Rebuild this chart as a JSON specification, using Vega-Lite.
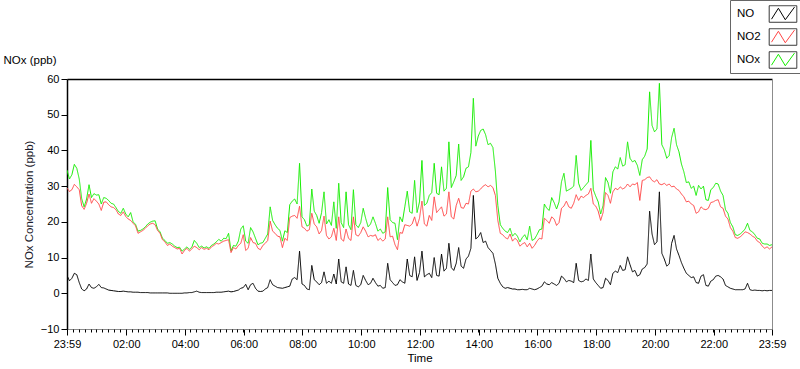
{
  "$schema": "https://vega.github.io/schema/vega-lite/v6.json",
  "width": 705,
  "height": 250,
  "autosize": {"type": "none"},
  "padding": {"left": 67, "top": 79, "right": 28, "bottom": 40},
  "background": "white",
  "config": {
    "font": "Liberation Sans",
    "view": {"stroke": null},
    "axis": {"grid": false, "labelFont": "Liberation Sans", "titleFont": "Liberation Sans", "labelColor": "black", "titleColor": "black"},
    "legend": {"labelFont": "Liberation Sans"}
  },
  "data": {"values": [
    {"t":0,"NO":5.0,"NO2":29.5,"NOx":34.5},{"t":5,"NO":3.5,"NO2":28.5,"NOx":32.0},{"t":10,"NO":4.2,"NO2":29.0,"NOx":33.2},{"t":15,"NO":5.6,"NO2":30.5,"NOx":36.1},{"t":20,"NO":5.2,"NO2":29.8,"NOx":35.0},{"t":25,"NO":3.0,"NO2":29.0,"NOx":32.0},{"t":30,"NO":1.2,"NO2":24.5,"NOx":26.5},{"t":35,"NO":0.7,"NO2":23.5,"NOx":24.2},{"t":40,"NO":1.2,"NO2":25.2,"NOx":26.4},{"t":45,"NO":2.6,"NO2":27.8,"NOx":30.4},{"t":50,"NO":1.6,"NO2":25.2,"NOx":26.8},{"t":55,"NO":1.4,"NO2":26.5,"NOx":27.9},
    {"t":60,"NO":1.8,"NO2":25.8,"NOx":27.5},{"t":65,"NO":2.5,"NO2":25.0,"NOx":27.6},{"t":70,"NO":1.6,"NO2":23.2,"NOx":25.0},{"t":75,"NO":1.5,"NO2":25.5,"NOx":26.8},{"t":80,"NO":1.2,"NO2":25.6,"NOx":26.6},{"t":85,"NO":0.9,"NO2":24.8,"NOx":26.0},{"t":90,"NO":0.8,"NO2":24.2,"NOx":25.2},{"t":95,"NO":0.7,"NO2":24.0,"NOx":25.0},{"t":100,"NO":0.6,"NO2":23.4,"NOx":24.0},{"t":105,"NO":0.5,"NO2":22.2,"NOx":22.9},{"t":110,"NO":0.5,"NO2":21.8,"NOx":22.4},{"t":115,"NO":0.6,"NO2":22.8,"NOx":23.8},
    {"t":120,"NO":0.5,"NO2":21.5,"NOx":22.2},{"t":125,"NO":0.4,"NO2":20.8,"NOx":21.4},{"t":130,"NO":0.4,"NO2":20.4,"NOx":22.6},{"t":135,"NO":0.3,"NO2":19.6,"NOx":20.0},{"t":140,"NO":0.3,"NO2":18.9,"NOx":19.3},{"t":145,"NO":0.3,"NO2":16.8,"NOx":17.4},{"t":150,"NO":0.2,"NO2":17.2,"NOx":17.6},{"t":155,"NO":0.2,"NO2":17.6,"NOx":18.0},{"t":160,"NO":0.2,"NO2":18.2,"NOx":18.6},{"t":165,"NO":0.2,"NO2":18.9,"NOx":19.4},{"t":170,"NO":0.1,"NO2":19.4,"NOx":19.9},{"t":175,"NO":0.1,"NO2":19.6,"NOx":20.2},
    {"t":180,"NO":0.1,"NO2":19.2,"NOx":20.3},{"t":185,"NO":0.1,"NO2":17.6,"NOx":18.0},{"t":190,"NO":0.1,"NO2":16.8,"NOx":17.2},{"t":195,"NO":0.1,"NO2":15.0,"NOx":15.4},{"t":200,"NO":0.1,"NO2":14.4,"NOx":14.8},{"t":205,"NO":0.1,"NO2":13.4,"NOx":14.0},{"t":210,"NO":0.0,"NO2":13.8,"NOx":14.2},{"t":215,"NO":0.0,"NO2":13.2,"NOx":13.8},{"t":220,"NO":0.0,"NO2":12.8,"NOx":13.2},{"t":225,"NO":0.0,"NO2":12.4,"NOx":12.8},{"t":230,"NO":0.0,"NO2":12.6,"NOx":12.9},{"t":235,"NO":0.0,"NO2":11.0,"NOx":11.8},
    {"t":240,"NO":0.1,"NO2":12.0,"NOx":12.4},{"t":245,"NO":0.1,"NO2":12.6,"NOx":13.0},{"t":250,"NO":0.2,"NO2":11.8,"NOx":12.3},{"t":255,"NO":0.2,"NO2":12.4,"NOx":12.9},{"t":260,"NO":0.4,"NO2":13.2,"NOx":14.8},{"t":265,"NO":0.6,"NO2":12.8,"NOx":14.0},{"t":270,"NO":0.3,"NO2":12.2,"NOx":12.8},{"t":275,"NO":0.2,"NO2":12.8,"NOx":13.2},{"t":280,"NO":0.2,"NO2":12.3,"NOx":12.7},{"t":285,"NO":0.2,"NO2":12.6,"NOx":13.0},{"t":290,"NO":0.2,"NO2":12.2,"NOx":12.6},{"t":295,"NO":0.2,"NO2":13.0,"NOx":13.4},
    {"t":300,"NO":0.2,"NO2":13.4,"NOx":13.8},{"t":305,"NO":0.3,"NO2":14.0,"NOx":14.4},{"t":310,"NO":0.3,"NO2":13.8,"NOx":15.1},{"t":315,"NO":0.3,"NO2":14.2,"NOx":14.6},{"t":320,"NO":0.4,"NO2":14.6,"NOx":15.4},{"t":325,"NO":0.5,"NO2":14.8,"NOx":15.3},{"t":330,"NO":0.6,"NO2":15.0,"NOx":16.8},{"t":335,"NO":0.4,"NO2":11.4,"NOx":11.9},{"t":340,"NO":0.5,"NO2":12.8,"NOx":13.4},{"t":345,"NO":0.7,"NO2":12.4,"NOx":13.2},{"t":350,"NO":0.9,"NO2":13.4,"NOx":14.6},{"t":355,"NO":1.4,"NO2":14.0,"NOx":18.0},
    {"t":360,"NO":1.6,"NO2":16.4,"NOx":18.9},{"t":365,"NO":2.5,"NO2":12.0,"NOx":14.6},{"t":370,"NO":1.0,"NO2":12.6,"NOx":14.0},{"t":375,"NO":2.4,"NO2":15.6,"NOx":18.4},{"t":380,"NO":2.8,"NO2":14.2,"NOx":17.2},{"t":385,"NO":1.4,"NO2":14.0,"NOx":15.4},{"t":390,"NO":0.6,"NO2":12.6,"NOx":13.6},{"t":395,"NO":0.5,"NO2":12.2,"NOx":14.0},{"t":400,"NO":0.6,"NO2":13.4,"NOx":14.2},{"t":405,"NO":1.2,"NO2":14.0,"NOx":15.4},{"t":410,"NO":1.6,"NO2":14.8,"NOx":16.6},{"t":415,"NO":3.8,"NO2":20.2,"NOx":24.2},
    {"t":420,"NO":2.4,"NO2":17.4,"NOx":20.4},{"t":425,"NO":2.0,"NO2":16.8,"NOx":19.2},{"t":430,"NO":1.6,"NO2":16.0,"NOx":18.2},{"t":435,"NO":1.5,"NO2":15.8,"NOx":17.6},{"t":440,"NO":1.4,"NO2":12.8,"NOx":14.6},{"t":445,"NO":1.6,"NO2":15.4,"NOx":17.5},{"t":450,"NO":1.8,"NO2":14.8,"NOx":17.0},{"t":455,"NO":2.0,"NO2":21.2,"NOx":24.8},{"t":460,"NO":4.0,"NO2":21.6,"NOx":25.8},{"t":465,"NO":4.4,"NO2":21.8,"NOx":26.4},{"t":470,"NO":3.8,"NO2":21.0,"NOx":25.0},{"t":475,"NO":11.8,"NO2":24.4,"NOx":36.4},
    {"t":480,"NO":2.6,"NO2":18.6,"NOx":21.4},{"t":485,"NO":2.2,"NO2":18.2,"NOx":20.6},{"t":490,"NO":1.2,"NO2":17.4,"NOx":18.8},{"t":495,"NO":1.0,"NO2":17.8,"NOx":19.2},{"t":500,"NO":7.8,"NO2":22.4,"NOx":29.2},{"t":505,"NO":3.8,"NO2":19.4,"NOx":23.0},{"t":510,"NO":3.2,"NO2":18.6,"NOx":21.8},{"t":515,"NO":2.4,"NO2":16.6,"NOx":19.6},{"t":520,"NO":3.0,"NO2":17.6,"NOx":22.6},{"t":525,"NO":6.0,"NO2":21.6,"NOx":28.4},{"t":530,"NO":2.8,"NO2":16.2,"NOx":19.4},{"t":535,"NO":3.4,"NO2":15.2,"NOx":20.6},
    {"t":540,"NO":2.8,"NO2":15.8,"NOx":19.0},{"t":545,"NO":5.4,"NO2":18.2,"NOx":25.6},{"t":550,"NO":2.6,"NO2":14.8,"NOx":18.2},{"t":555,"NO":9.6,"NO2":21.4,"NOx":30.8},{"t":560,"NO":3.2,"NO2":15.2,"NOx":19.8},{"t":565,"NO":2.8,"NO2":14.6,"NOx":18.4},{"t":570,"NO":7.4,"NO2":18.0,"NOx":28.4},{"t":575,"NO":2.6,"NO2":15.4,"NOx":19.2},{"t":580,"NO":2.2,"NO2":14.8,"NOx":17.8},{"t":585,"NO":6.4,"NO2":21.4,"NOx":29.0},{"t":590,"NO":2.2,"NO2":16.4,"NOx":19.2},{"t":595,"NO":1.8,"NO2":16.0,"NOx":18.4},
    {"t":600,"NO":2.4,"NO2":17.0,"NOx":19.8},{"t":605,"NO":5.0,"NO2":18.6,"NOx":23.8},{"t":610,"NO":3.6,"NO2":17.4,"NOx":21.0},{"t":615,"NO":2.4,"NO2":15.8,"NOx":18.6},{"t":620,"NO":2.8,"NO2":16.2,"NOx":19.4},{"t":625,"NO":4.2,"NO2":16.0,"NOx":21.4},{"t":630,"NO":3.0,"NO2":16.4,"NOx":19.6},{"t":635,"NO":2.0,"NO2":14.8,"NOx":17.4},{"t":640,"NO":2.2,"NO2":15.4,"NOx":18.0},{"t":645,"NO":1.4,"NO2":14.6,"NOx":16.8},{"t":650,"NO":1.6,"NO2":15.2,"NOx":17.2},{"t":655,"NO":8.4,"NO2":21.4,"NOx":29.6},
    {"t":660,"NO":3.8,"NO2":15.8,"NOx":20.6},{"t":665,"NO":3.0,"NO2":16.0,"NOx":19.8},{"t":670,"NO":2.2,"NO2":13.6,"NOx":19.6},{"t":675,"NO":2.4,"NO2":12.2,"NOx":15.0},{"t":680,"NO":3.8,"NO2":17.0,"NOx":21.4},{"t":685,"NO":3.2,"NO2":16.8,"NOx":20.0},{"t":690,"NO":2.8,"NO2":19.2,"NOx":24.2},{"t":695,"NO":9.6,"NO2":19.0,"NOx":28.6},{"t":700,"NO":5.0,"NO2":18.8,"NOx":22.8},{"t":705,"NO":4.6,"NO2":19.4,"NOx":22.4},{"t":710,"NO":10.2,"NO2":21.4,"NOx":31.6},{"t":715,"NO":3.6,"NO2":18.8,"NOx":22.6},
    {"t":720,"NO":5.8,"NO2":21.0,"NOx":25.6},{"t":725,"NO":11.8,"NO2":25.8,"NOx":37.2},{"t":730,"NO":4.6,"NO2":19.4,"NOx":24.6},{"t":735,"NO":5.2,"NO2":18.8,"NOx":25.2},{"t":740,"NO":5.6,"NO2":21.8,"NOx":27.4},{"t":745,"NO":4.4,"NO2":20.4,"NOx":28.2},{"t":750,"NO":10.0,"NO2":27.0,"NOx":36.4},{"t":755,"NO":5.0,"NO2":22.6,"NOx":28.0},{"t":760,"NO":4.8,"NO2":23.4,"NOx":27.6},{"t":765,"NO":11.0,"NO2":24.2,"NOx":35.4},{"t":770,"NO":6.2,"NO2":21.6,"NOx":28.6},{"t":775,"NO":7.0,"NO2":22.2,"NOx":29.4},
    {"t":780,"NO":14.0,"NO2":28.4,"NOx":42.4},{"t":785,"NO":7.2,"NO2":21.4,"NOx":29.6},{"t":790,"NO":6.4,"NO2":20.8,"NOx":31.2},{"t":795,"NO":8.4,"NO2":24.6,"NOx":33.0},{"t":800,"NO":12.8,"NO2":26.6,"NOx":41.8},{"t":805,"NO":7.6,"NO2":24.0,"NOx":31.6},{"t":810,"NO":7.0,"NO2":23.8,"NOx":32.6},{"t":815,"NO":9.6,"NO2":25.2,"NOx":35.0},{"t":820,"NO":10.4,"NO2":25.0,"NOx":35.4},{"t":825,"NO":12.6,"NO2":28.6,"NOx":39.4},{"t":830,"NO":27.4,"NO2":29.2,"NOx":54.6},{"t":835,"NO":15.2,"NO2":28.4,"NOx":41.2},
    {"t":840,"NO":15.8,"NO2":28.6,"NOx":44.0},{"t":845,"NO":17.0,"NO2":29.2,"NOx":45.6},{"t":850,"NO":14.2,"NO2":30.0,"NOx":46.0},{"t":855,"NO":14.6,"NO2":30.4,"NOx":44.4},{"t":860,"NO":12.8,"NO2":29.8,"NOx":41.6},{"t":865,"NO":12.0,"NO2":30.2,"NOx":42.0},{"t":870,"NO":11.2,"NO2":29.6,"NOx":40.8},{"t":875,"NO":8.2,"NO2":27.4,"NOx":34.2},{"t":880,"NO":4.2,"NO2":20.4,"NOx":24.6},{"t":885,"NO":2.8,"NO2":16.8,"NOx":19.2},{"t":890,"NO":1.8,"NO2":16.4,"NOx":18.2},{"t":895,"NO":1.4,"NO2":15.6,"NOx":17.4},
    {"t":900,"NO":1.6,"NO2":15.2,"NOx":17.0},{"t":905,"NO":1.4,"NO2":16.6,"NOx":18.2},{"t":910,"NO":1.2,"NO2":14.6,"NOx":16.0},{"t":915,"NO":1.2,"NO2":15.4,"NOx":16.8},{"t":920,"NO":1.0,"NO2":14.8,"NOx":16.0},{"t":925,"NO":1.0,"NO2":13.2,"NOx":14.4},{"t":930,"NO":1.1,"NO2":13.8,"NOx":15.6},{"t":935,"NO":1.0,"NO2":14.2,"NOx":16.4},{"t":940,"NO":1.0,"NO2":13.0,"NOx":15.0},{"t":945,"NO":1.4,"NO2":14.0,"NOx":18.8},{"t":950,"NO":1.2,"NO2":12.6,"NOx":14.8},{"t":955,"NO":1.0,"NO2":13.4,"NOx":15.2},
    {"t":960,"NO":1.2,"NO2":14.6,"NOx":16.4},{"t":965,"NO":1.6,"NO2":15.4,"NOx":17.8},{"t":970,"NO":2.0,"NO2":15.2,"NOx":18.0},{"t":975,"NO":3.2,"NO2":21.0,"NOx":25.0},{"t":980,"NO":2.6,"NO2":20.4,"NOx":23.8},{"t":985,"NO":2.4,"NO2":19.6,"NOx":23.2},{"t":990,"NO":3.0,"NO2":21.4,"NOx":26.8},{"t":995,"NO":2.6,"NO2":20.8,"NOx":25.4},{"t":1000,"NO":2.2,"NO2":19.0,"NOx":23.6},{"t":1005,"NO":2.8,"NO2":19.8,"NOx":25.6},{"t":1010,"NO":4.8,"NO2":23.8,"NOx":31.2},{"t":1015,"NO":4.2,"NO2":24.4,"NOx":33.6},
    {"t":1020,"NO":3.2,"NO2":25.8,"NOx":28.6},{"t":1025,"NO":3.6,"NO2":24.2,"NOx":29.0},{"t":1030,"NO":3.4,"NO2":23.8,"NOx":29.4},{"t":1035,"NO":3.0,"NO2":25.2,"NOx":30.0},{"t":1040,"NO":8.4,"NO2":27.6,"NOx":38.6},{"t":1045,"NO":3.6,"NO2":26.0,"NOx":30.8},{"t":1050,"NO":3.2,"NO2":27.2,"NOx":28.8},{"t":1055,"NO":3.4,"NO2":26.8,"NOx":29.6},{"t":1060,"NO":4.0,"NO2":27.4,"NOx":30.4},{"t":1065,"NO":3.6,"NO2":27.8,"NOx":31.2},{"t":1070,"NO":11.0,"NO2":29.4,"NOx":42.8},{"t":1075,"NO":4.0,"NO2":25.0,"NOx":29.0},
    {"t":1080,"NO":3.0,"NO2":24.4,"NOx":27.2},{"t":1085,"NO":2.2,"NO2":23.0,"NOx":25.6},{"t":1090,"NO":1.4,"NO2":20.4,"NOx":22.2},{"t":1095,"NO":1.6,"NO2":22.6,"NOx":24.6},{"t":1100,"NO":4.2,"NO2":28.2,"NOx":32.4},{"t":1105,"NO":3.6,"NO2":27.4,"NOx":31.0},{"t":1110,"NO":2.4,"NO2":25.2,"NOx":28.0},{"t":1115,"NO":5.6,"NO2":28.4,"NOx":34.0},{"t":1120,"NO":6.2,"NO2":29.4,"NOx":35.4},{"t":1125,"NO":5.8,"NO2":29.0,"NOx":34.8},{"t":1130,"NO":7.8,"NO2":29.8,"NOx":38.0},{"t":1135,"NO":6.4,"NO2":29.2,"NOx":35.6},
    {"t":1140,"NO":6.6,"NO2":29.6,"NOx":36.0},{"t":1145,"NO":10.2,"NO2":30.6,"NOx":42.4},{"t":1150,"NO":8.0,"NO2":29.8,"NOx":37.8},{"t":1155,"NO":6.0,"NO2":30.6,"NOx":36.8},{"t":1160,"NO":6.4,"NO2":30.4,"NOx":37.2},{"t":1165,"NO":4.8,"NO2":31.0,"NOx":35.8},{"t":1170,"NO":5.2,"NO2":26.0,"NOx":33.0},{"t":1175,"NO":6.8,"NO2":31.6,"NOx":37.4},{"t":1180,"NO":7.2,"NO2":31.8,"NOx":38.4},{"t":1185,"NO":8.2,"NO2":32.4,"NOx":40.4},{"t":1190,"NO":23.0,"NO2":32.6,"NOx":56.4},{"t":1195,"NO":16.6,"NO2":31.6,"NOx":47.0},
    {"t":1200,"NO":13.6,"NO2":31.2,"NOx":45.2},{"t":1205,"NO":14.4,"NO2":31.8,"NOx":46.0},{"t":1210,"NO":28.4,"NO2":30.6,"NOx":58.8},{"t":1215,"NO":11.2,"NO2":30.4,"NOx":41.6},{"t":1220,"NO":9.6,"NO2":30.8,"NOx":40.2},{"t":1225,"NO":7.6,"NO2":30.2,"NOx":37.8},{"t":1230,"NO":8.2,"NO2":30.6,"NOx":38.6},{"t":1235,"NO":14.0,"NO2":29.8,"NOx":43.6},{"t":1240,"NO":16.2,"NO2":30.0,"NOx":46.2},{"t":1245,"NO":12.4,"NO2":29.2,"NOx":41.6},{"t":1250,"NO":10.6,"NO2":28.8,"NOx":39.6},{"t":1255,"NO":8.6,"NO2":27.8,"NOx":36.2},
    {"t":1260,"NO":7.0,"NO2":27.0,"NOx":34.0},{"t":1265,"NO":5.6,"NO2":25.6,"NOx":31.0},{"t":1270,"NO":5.0,"NO2":25.8,"NOx":31.2},{"t":1275,"NO":4.4,"NO2":25.0,"NOx":29.4},{"t":1280,"NO":4.6,"NO2":24.6,"NOx":30.0},{"t":1285,"NO":3.0,"NO2":22.4,"NOx":27.4},{"t":1290,"NO":2.8,"NO2":22.8,"NOx":30.2},{"t":1295,"NO":4.8,"NO2":24.2,"NOx":29.2},{"t":1300,"NO":5.2,"NO2":23.6,"NOx":30.0},{"t":1305,"NO":2.2,"NO2":23.4,"NOx":26.2},{"t":1310,"NO":2.0,"NO2":23.8,"NOx":26.0},{"t":1315,"NO":3.4,"NO2":25.4,"NOx":29.0},
    {"t":1320,"NO":3.8,"NO2":25.6,"NOx":29.6},{"t":1325,"NO":4.8,"NO2":26.0,"NOx":30.8},{"t":1330,"NO":5.0,"NO2":26.2,"NOx":30.6},{"t":1335,"NO":4.6,"NO2":24.2,"NOx":28.6},{"t":1340,"NO":4.0,"NO2":23.8,"NOx":27.4},{"t":1345,"NO":2.2,"NO2":21.6,"NOx":23.4},{"t":1350,"NO":1.8,"NO2":20.8,"NOx":22.4},{"t":1355,"NO":1.4,"NO2":18.4,"NOx":19.8},{"t":1360,"NO":1.2,"NO2":17.4,"NOx":18.6},{"t":1365,"NO":1.0,"NO2":15.6,"NOx":16.4},{"t":1370,"NO":1.0,"NO2":15.4,"NOx":16.2},{"t":1375,"NO":1.0,"NO2":15.8,"NOx":16.6},
    {"t":1380,"NO":1.0,"NO2":16.4,"NOx":17.2},{"t":1385,"NO":1.2,"NO2":17.2,"NOx":18.0},{"t":1390,"NO":2.8,"NO2":17.0,"NOx":19.6},{"t":1395,"NO":1.0,"NO2":16.6,"NOx":17.6},{"t":1400,"NO":0.8,"NO2":16.0,"NOx":17.2},{"t":1405,"NO":0.9,"NO2":15.6,"NOx":16.4},{"t":1410,"NO":0.8,"NO2":14.6,"NOx":15.4},{"t":1415,"NO":0.8,"NO2":14.2,"NOx":15.2},{"t":1420,"NO":0.7,"NO2":13.2,"NOx":14.0},{"t":1425,"NO":0.8,"NO2":12.6,"NOx":13.8},{"t":1430,"NO":0.7,"NO2":13.0,"NOx":13.8},{"t":1435,"NO":0.8,"NO2":12.4,"NOx":13.4},{"t":1440,"NO":0.8,"NO2":13.0,"NOx":13.6}
  ]},
  "resolve": {"axis": {"x": "independent", "y": "independent"}},
  "layer": [
    {
      "mark": {"type": "line", "strokeWidth": 1, "clip": true},
      "encoding": {
        "x": {"field": "t", "type": "quantitative", "scale": {"domain": [0, 1440], "nice": false, "zero": false},
          "axis": {"orient": "bottom", "values": [0,121,241,361,481,601,721,841,961,1081,1201,1321,1440],
            "labelExpr": "datum.value == 0 || datum.value == 1440 ? '23:59' : (((datum.value - 1) / 60) < 10 ? '0' : '') + ((datum.value - 1) / 60) + ':00'",
            "tickSize": 6, "tickColor": "black", "domainColor": "#8c8c8c", "domainWidth": 1, "labelFontSize": 11, "labelPadding": 3, "labelFlush": false, "labelOverlap": false,
            "title": "Time", "titleFontSize": 11.5, "titleFontWeight": "normal", "titlePadding": 3}},
        "y": {"field": "NOx", "type": "quantitative", "scale": {"domain": [-10, 60], "nice": false, "zero": false},
          "axis": {"orient": "left", "values": [-10,0,10,20,30,40,50,60], "tickSize": 6, "tickColor": "black", "domainColor": "black", "domainWidth": 1.5, "labelFontSize": 11, "labelPadding": 2,
            "title": "NOx Concentration (ppb)", "titleFontSize": 11.5, "titleFontWeight": "normal", "titlePadding": 6, "titleColor": "#1c1c2c"}},
        "color": {"datum": "NOx", "scale": {"domain": ["NO", "NO2", "NOx"], "range": ["#000000", "#ff4545", "#15ee00"]},
          "legend": {"orient": "none", "legendX": 663, "legendY": -79, "title": null, "padding": 2, "rowPadding": 0, "strokeColor": "#666666", "fillColor": null,
            "symbolType": "M-1.2,-0.72M1.2,0.72M-1,0.45L-0.4,-0.5L0.2,0.5L1,-0.6", "symbolSize": 529, "symbolStrokeWidth": 1, "labelFontSize": 11.5, "labelColor": "black",
            "encoding": {"symbols": {"x": {"value": 51}}, "labels": {"x": {"value": 5}}}}},
        "strokeDash": {"datum": "NOx ", "scale": {"domain": ["NO ", "NO2 ", "NOx "], "range": [[1, 0], [1, 0], [1, 0]]},
          "legend": {"orient": "none", "legendX": 663, "legendY": -79, "title": null, "padding": 2, "rowPadding": 0, "strokeColor": null, "fillColor": null,
            "symbolType": "M-1.2,-0.72H1.2V0.72H-1.2Z", "symbolSize": 529, "symbolStrokeWidth": 1, "symbolStrokeColor": "#333333", "symbolFillColor": "transparent", "labelFontSize": 11.5, "labelColor": "transparent",
            "encoding": {"symbols": {"x": {"value": 51}}, "labels": {"x": {"value": 5}}}}}
      }
    },
    {
      "mark": {"type": "line", "strokeWidth": 1, "clip": true},
      "encoding": {
        "x": {"field": "t", "type": "quantitative",
          "axis": {"orient": "bottom", "values": [0,12,24,36,48,60,72,84,96,108,120,132,144,156,168,180,192,204,216,228,240,252,264,276,288,300,312,324,336,348,360,372,384,396,408,420,432,444,456,468,480,492,504,516,528,540,552,564,576,588,600,612,624,636,648,660,672,684,696,708,720,732,744,756,768,780,792,804,816,828,840,852,864,876,888,900,912,924,936,948,960,972,984,996,1008,1020,1032,1044,1056,1068,1080,1092,1104,1116,1128,1140,1152,1164,1176,1188,1200,1212,1224,1236,1248,1260,1272,1284,1296,1308,1320,1332,1344,1356,1368,1380,1392,1404,1416,1428,1440],
            "tickSize": 3, "tickColor": "black", "domain": false, "labels": false, "title": null}},
        "y": {"field": "NO2", "type": "quantitative",
          "axis": {"orient": "right", "domainColor": "#8c8c8c", "domainWidth": 1, "ticks": false, "labels": false, "title": null}},
        "color": {"datum": "NO2"},
        "strokeDash": {"datum": "NO2 "}
      }
    },
    {
      "mark": {"type": "line", "strokeWidth": 1, "clip": true},
      "encoding": {
        "x": {"field": "t", "type": "quantitative",
          "axis": {"orient": "top", "domainColor": "black", "domainWidth": 1.5, "ticks": false, "labels": false,
            "title": "NOx (ppb)", "titleX": -64, "titleY": -19, "titleAlign": "left", "titleBaseline": "middle", "titleFontSize": 11.5, "titleFontWeight": "normal", "titleColor": "black"}},
        "y": {"field": "NO", "type": "quantitative", "axis": null},
        "color": {"datum": "NO"},
        "strokeDash": {"datum": "NO "}
      }
    }
  ]
}
